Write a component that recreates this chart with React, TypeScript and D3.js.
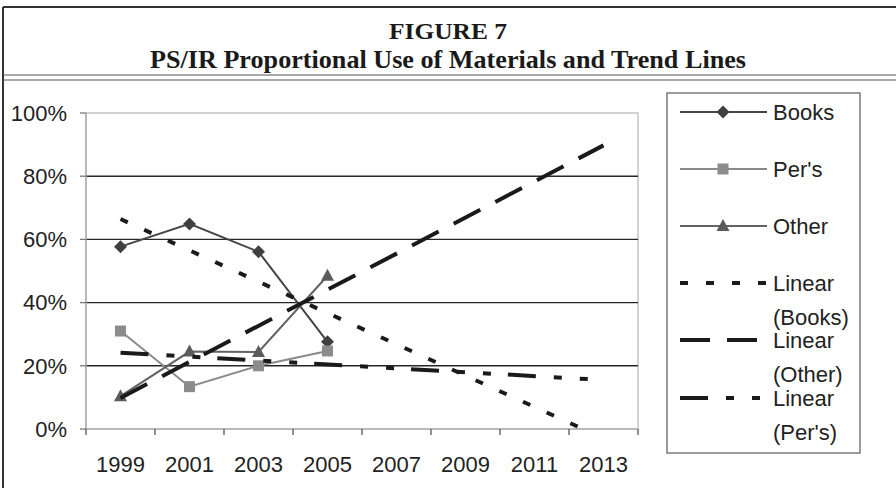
import * as d3 from 'd3'

const years = ['1999', '2001', '2003', '2005', '2007', '2009', '2011', '2013']
const books = [0.577, 0.649, 0.561, 0.276]
const pers = [0.31, 0.134, 0.2, 0.247]
const other = [0.104, 0.245, 0.244, 0.485]
const yTicks = [0, 0.2, 0.4, 0.6, 0.8, 1]

const W = 896
const H = 488
const plot = { left: 86, right: 638, top: 113, bottom: 429 }
const font = 'Liberation Sans, Arial, sans-serif'
const serif = 'Liberation Serif, Times New Roman, serif'

// least squares fit, like excel's linear trendline
function fit(vals: number[]) {
  const xs = vals.map((_, i) => i)
  const mx = d3.mean(xs)!
  const my = d3.mean(vals)!
  const slope = d3.sum(xs, (x, i) => (x - mx) * (vals[i] - my)) / d3.sum(xs, x => (x - mx) ** 2)
  return { slope, icpt: my - slope * mx }
}

const series = [
  { name: 'Books', vals: books, stroke: '#454545', fill: '#404040', marker: 'diamond' },
  { name: "Per's", vals: pers, stroke: '#8a8a8a', fill: '#8c8c8c', marker: 'square' },
  { name: 'Other', vals: other, stroke: '#636363', fill: '#5c5c5c', marker: 'triangle' },
]

const trends = [
  { name: 'Books', vals: books, dash: '8,18' },
  { name: 'Other', vals: other, dash: '30,17' },
  { name: "Per's", vals: pers, dash: '28,18,8,18,8,17' },
]

function Marker({ kind, x, y, fill }: { kind: string; x: number; y: number; fill: string }) {
  if (kind === 'diamond') {
    const r = 6.5
    return <path d={`M${x},${y - r}L${x + r},${y}L${x},${y + r}L${x - r},${y}Z`} fill={fill} />
  }
  if (kind === 'square') {
    return <rect x={x - 5.5} y={y - 5.5} width={11} height={11} fill={fill} />
  }
  return <path d={`M${x},${y - 7}L${x + 6.5},${y + 5}L${x - 6.5},${y + 5}Z`} fill={fill} />
}

export default function App() {
  const x = d3.scaleBand<string>().domain(years).range([plot.left, plot.right])
  const c0 = x(years[0])! + x.bandwidth() / 2
  const xi = d3.scaleLinear().domain([0, 1]).range([c0, c0 + x.step()])
  const y = d3.scaleLinear().domain([0, 1]).range([plot.bottom, plot.top])
  const line = d3.line<number>().x((_, i) => xi(i)).y(d => y(d))
  const last = years.length - 1

  const legendRows = [112, 169, 226]
  const trendRows = [283, 340, 398]

  return (
    <svg width={W} height={H} style={{ position: 'absolute', left: 0, top: 0, background: '#fff' }}>
      <defs>
        <clipPath id="plotClip">
          <rect x={plot.left} y={plot.top} width={plot.right - plot.left} height={plot.bottom - plot.top} />
        </clipPath>
      </defs>

      {/* frame and title */}
      <line x1={3} x2={W} y1={7} y2={7} stroke="#333" strokeWidth={2} />
      <line x1={3} x2={3} y1={7} y2={H} stroke="#333" strokeWidth={2} />
      <line x1={3} x2={W} y1={75} y2={75} stroke="#555" strokeWidth={1.2} />
      <line x1={3} x2={W} y1={80} y2={80} stroke="#555" strokeWidth={1.2} />
      <text x={448} y={39} textAnchor="middle" fontFamily={serif} fontWeight="bold" fontSize={24}
        fill="#1a1a1a" textLength={118} lengthAdjust="spacingAndGlyphs">FIGURE 7</text>
      <text x={448} y={68} textAnchor="middle" fontFamily={serif} fontWeight="bold" fontSize={25}
        fill="#1a1a1a" textLength={596} lengthAdjust="spacingAndGlyphs">
        PS/IR Proportional Use of Materials and Trend Lines
      </text>

      {/* plot frame */}
      <rect x={plot.left} y={plot.top} width={plot.right - plot.left} height={plot.bottom - plot.top}
        fill="none" stroke="#c4c4c4" strokeWidth={1.5} />
      {yTicks.filter(t => t > 0 && t < 1).map(t => (
        <line key={t} x1={plot.left} x2={plot.right} y1={y(t)} y2={y(t)} stroke="#262626" strokeWidth={1.4} />
      ))}
      <line x1={plot.left} x2={plot.left} y1={plot.top} y2={plot.bottom} stroke="#b0b0b0" strokeWidth={1.5} />
      <line x1={plot.left} x2={plot.right} y1={plot.bottom} y2={plot.bottom} stroke="#b0b0b0" strokeWidth={1.5} />
      {yTicks.map(t => (
        <g key={t}>
          <line x1={plot.left - 6} x2={plot.left} y1={y(t)} y2={y(t)} stroke="#777" strokeWidth={1.3} />
          <text x={67} y={y(t)} dy="0.35em" textAnchor="end" fontFamily={font} fontSize={22} fill="#222">
            {d3.format('.0%')(t)}
          </text>
        </g>
      ))}
      {d3.range(years.length + 1).map(i => (
        <line key={i} x1={plot.left + i * x.step()} x2={plot.left + i * x.step()} y1={plot.bottom}
          y2={plot.bottom + 6} stroke="#555" strokeWidth={1.3} />
      ))}
      {years.map(yr => (
        <text key={yr} x={x(yr)! + x.bandwidth() / 2} y={472} textAnchor="middle" fontFamily={font}
          fontSize={22} fill="#222">{yr}</text>
      ))}

      {/* data series */}
      {series.map(s => (
        <g key={s.name}>
          <path d={line(s.vals)!} fill="none" stroke={s.stroke} strokeWidth={2} />
          {s.vals.map((v, i) => <Marker key={i} kind={s.marker} x={xi(i)} y={y(v)} fill={s.fill} />)}
        </g>
      ))}

      {/* trend lines, forecast out to the last category */}
      <g clipPath="url(#plotClip)">
        {trends.map(t => {
          const { slope, icpt } = fit(t.vals)
          return (
            <line key={t.name} x1={xi(0)} y1={y(icpt)} x2={xi(last)} y2={y(icpt + slope * last)}
              stroke="#1a1a1a" strokeWidth={4} strokeDasharray={t.dash} />
          )
        })}
      </g>

      {/* legend */}
      <rect x={667} y={93} width={193} height={360} fill="#fff" stroke="#7a7a7a" strokeWidth={1.5} />
      {series.map((s, i) => (
        <g key={s.name}>
          <line x1={680} x2={767} y1={legendRows[i]} y2={legendRows[i]} stroke={s.stroke} strokeWidth={2} />
          <Marker kind={s.marker} x={723} y={legendRows[i]} fill={s.fill} />
          <text x={773} y={legendRows[i]} dy="0.35em" fontFamily={font} fontSize={22} fill="#222">{s.name}</text>
        </g>
      ))}
      {trends.map((t, i) => (
        <g key={t.name}>
          <line x1={680} x2={767} y1={trendRows[i]} y2={trendRows[i]} stroke="#1a1a1a" strokeWidth={4}
            strokeDasharray={t.dash} />
          <text x={773} y={trendRows[i]} dy="0.35em" fontFamily={font} fontSize={22} fill="#222">Linear</text>
          <text x={773} y={trendRows[i] + 34} dy="0.35em" fontFamily={font} fontSize={22} fill="#222">
            ({t.name})
          </text>
        </g>
      ))}
    </svg>
  )
}
